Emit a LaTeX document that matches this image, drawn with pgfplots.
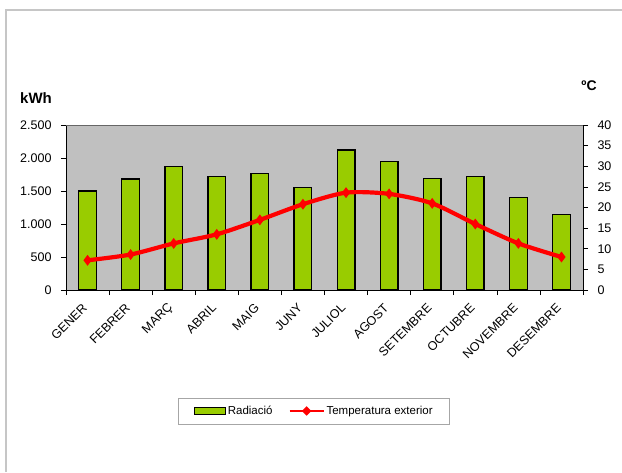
\documentclass[border=0pt]{standalone}
\usepackage{fontspec}
\setmainfont{Liberation Sans}
\usepackage{pgfplots}
\pgfplotsset{compat=1.18}
\definecolor{barg}{HTML}{99CC00}
\definecolor{plotbg}{HTML}{C0C0C0}
\begin{document}
\begin{tikzpicture}
\useasboundingbox (-66pt,-182pt) rectangle (556pt,290pt);
\draw[gray!45, line width=1.5pt] (-60pt,-182pt) -- (-60pt,280pt) -- (556pt,280pt);
\begin{axis}[
  at={(0pt,0pt)}, anchor=south west,
  scale only axis, width=517pt, height=165pt,
  xmin=-0.5, xmax=11.5, ymin=0, ymax=2500,
  axis background/.style={fill=plotbg},
  axis x line*=bottom, axis y line*=left,
  axis line style={-, black, line width=0.8pt},
  tick align=outside, major tick length=5pt, minor tick length=5pt,
  tick style={black, line width=0.6pt},
  ytick={0,500,...,2500},
  scaled y ticks=false,
  xtick={0,1,...,11},
  xticklabels={GENER,FEBRER,MARÇ,ABRIL,MAIG,JUNY,JULIOL,AGOST,SETEMBRE,OCTUBRE,NOVEMBRE,DESEMBRE},
  minor xtick={-0.5,0.5,...,11.5},
  every major x tick/.append style={draw=none},
  xticklabel style={yshift=-10pt, xshift=-2pt, rotate=45, anchor=east, inner sep=1pt},
  yticklabel style={xshift=-6pt},
  tick label style={font=\fontsize{12.5}{14}\selectfont},
  /pgf/number format/assume math mode=true,
  /pgf/number format/1000 sep={.},
]
\addplot[ybar, bar width=17.7pt, fill=barg, draw=black, line width=1.3pt]
  coordinates {(0,1500) (1,1680) (2,1875) (3,1725) (4,1770) (5,1550) (6,2120) (7,1950) (8,1690) (9,1725) (10,1400) (11,1140)};
\draw[gray!80!black, line width=0.8pt] (rel axis cs:0,1) -- (rel axis cs:1,1);
\end{axis}
\begin{axis}[
  at={(0pt,0pt)}, anchor=south west,
  scale only axis, width=517pt, height=165pt,
  xmin=-0.5, xmax=11.5, ymin=0, ymax=40,
  axis y line*=right, axis x line=none,
  axis line style={-, black, line width=0.8pt},
  tick align=outside, major tick length=5pt,
  tick style={black, line width=0.6pt},
  ytick={0,5,...,40},
  yticklabel style={xshift=6pt},
  tick label style={font=\fontsize{12.5}{14}\selectfont},
  /pgf/number format/assume math mode=true,
  legend style={at={(0.480,-0.733)}, anchor=center, draw=gray!70, fill=white,
    font=\fontsize{11.5}{13}\selectfont, inner xsep=15pt, inner ysep=6pt,
    /tikz/every even column/.append style={column sep=14pt}},
  legend columns=2, legend cell align=left,
]
\addlegendimage{legend image code/.code={\draw[fill=barg, draw=black, line width=1.2pt] (0pt,-3.2pt) rectangle (31pt,3.2pt);}}
\addlegendentry{Radiació}
\addplot[red, line width=4.2pt, smooth, tension=0.45, mark=diamond*, mark size=2pt,
  legend image code/.code={\draw[red, line width=2pt] (0pt,0pt) -- (34pt,0pt); \fill[red] (17pt,0pt) circle (1.8pt);}]
  coordinates {(0,7.2) (1,8.6) (2,11.3) (3,13.5) (4,17.0) (5,20.8) (6,23.6) (7,23.3) (8,21.0) (9,16.0) (10,11.3) (11,8.0)};
\addlegendentry{Temperatura exterior}
\end{axis}
\node[font=\bfseries\fontsize{15}{17}\selectfont] at (-30pt,192pt) {kWh};
\node[font=\bfseries\fontsize{14}{16}\selectfont] at (523pt,204pt) {ºC};
\end{tikzpicture}
\end{document}
